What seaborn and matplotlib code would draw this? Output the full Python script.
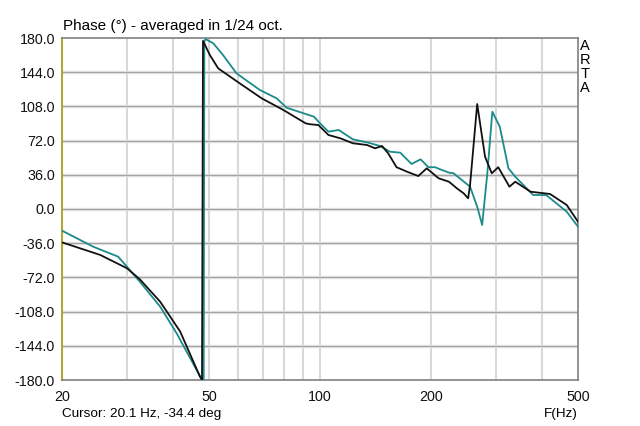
import pandas as pd
import matplotlib
matplotlib.use("Agg")
import matplotlib.pyplot as plt
import seaborn as sns

# black trace (frequency in Hz, phase in degrees)
f_black = [20, 25.4, 30, 32.5, 36.9, 41.8, 47.3, 47.9, 48.2, 50.3, 53, 54.6, 60.6, 69.5,
           79.6, 91.4, 94, 99, 105.4, 113.6, 122.7, 134, 141, 147.3, 153, 161.2, 172,
           184.6, 194.6, 209.6, 223.6, 234.8, 245, 252, 255, 266.6, 280, 292, 304, 326,
           338, 372, 420, 466, 500]
ph_black = [-35.1, -48.4, -62.4, -74, -97.6, -129, -176.5, -180, 177, 162.1, 148, 144.5, 132.3, 116.5,
            104.2, 90.2, 89.2, 88.4, 77.9, 74.4, 69.2, 67.4, 63.9, 66.3, 58.6, 44, 39.3,
            34.7, 42.8, 32.3, 28.7, 21.8, 16.5, 11.3, 25.3, 110.5, 55, 37.6, 44, 23.5,
            28.7, 18.2, 15.8, 4.2, -13.4]

# teal trace
f_teal = [20, 24.3, 28.4, 32.5, 36.9, 40.9, 47.3, 48.4, 48.6, 48.9, 51.4, 54.6, 59.4, 68.7,
          76.3, 81.2, 90.3, 96.3, 100, 105.4, 112.4, 122.7, 134, 145.4, 154.8, 165, 177,
          187.3, 196.6, 205, 211.6, 223.6, 230, 255, 266.6, 275, 284, 293, 307, 324, 338,
          378, 410, 466, 500]
ph_teal = [-22.8, -39.7, -50.2, -76.5, -102.8, -130.9, -176, -180, 176, 179, 174.4, 162.1, 142.8, 125.3,
           116.5, 106.6, 100.7, 97.2, 90.2, 81.4, 83.2, 73.4, 70.2, 66.3, 60.3, 59.3, 47.4,
           52.3, 44, 44, 41.8, 38.3, 37.6, 23.5, 2.4, -16.8, 37.6, 102.4, 86.6, 42.8, 34,
           14.7, 14.7, -2.8, -18.6]

x_major = [20, 50, 100, 200, 500]
x_minor = [30, 40, 60, 70, 80, 90, 300, 400]
y_ticks = [-180, -144, -108, -72, -36, 0, 36, 72, 108, 144, 180]

plt.rcParams['font.family'] = ['Liberation Sans', 'DejaVu Sans']
plt.rcParams['font.size'] = 10.3

fig = plt.figure(figsize=(6.4, 4.26), dpi=100)
ax = fig.add_axes([62 / 640, 1 - 380 / 426, 516 / 640, 342 / 426])

black = pd.DataFrame({'f': f_black, 'phase': ph_black})
teal = pd.DataFrame({'f': f_teal, 'phase': ph_teal})
sns.lineplot(data=teal, x='f', y='phase', ax=ax, color='#1b8a8a', lw=1.3,
             sort=False, estimator=None, zorder=3)
sns.lineplot(data=black, x='f', y='phase', ax=ax, color='#111111', lw=1.3,
             sort=False, estimator=None, zorder=4)

ax.set_xscale('log')
ax.set_xlim(20, 500)
ax.set_ylim(-180, 180)
ax.set_xticks(x_major)
ax.set_xticklabels([str(v) for v in x_major])
ax.set_xticks(x_minor, minor=True)
ax.set_xticklabels([], minor=True)
ax.set_yticks(y_ticks)
ax.set_yticklabels(['%.1f' % v for v in y_ticks])
ax.tick_params(axis='both', which='both', length=0, labelsize=10.3, colors='#111111')
ax.tick_params(axis='x', pad=7)
ax.tick_params(axis='y', pad=5)
ax.set_xlabel('')
ax.set_ylabel('')

# grid
ax.grid(False)
for v in x_major[1:-1] + x_minor:
    ax.axvline(v, color='#d8d8d8', lw=1.5, zorder=1)
for v in y_ticks[1:-1]:
    ax.axhline(v, color='#e6e6e6', lw=2.4, zorder=1)
    ax.axhline(v, color='#a4a4a4', lw=0.9, zorder=1.5)

for s in ['top', 'right', 'bottom']:
    ax.spines[s].set_color('#808080')
    ax.spines[s].set_linewidth(1.2)
ax.spines['left'].set_color('#b0a830')
ax.spines['left'].set_linewidth(1.5)

fig.text(63 / 640, 1 - 30 / 426, 'Phase (°) - averaged in 1/24 oct.', fontsize=11,
         va='baseline', ha='left')
fig.text(585 / 640, 1 - 39 / 426, 'A\nR\nT\nA', fontsize=10.5, va='top', ha='center',
         linespacing=1.0)
fig.text(62 / 640, 1 - 417 / 426, 'Cursor: 20.1 Hz, -34.4 deg', fontsize=9.7,
         va='baseline', ha='left')
fig.text(578 / 640, 1 - 417 / 426, 'F(Hz)', fontsize=9.7, va='baseline', ha='right')

fig.savefig('out.png', dpi=100)
